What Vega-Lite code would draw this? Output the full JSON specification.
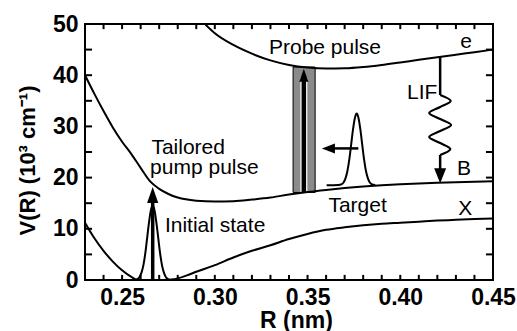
{
  "$schema": "https://vega.github.io/schema/vega-lite/v6.json",
  "width": 408,
  "height": 256,
  "autosize": {"type": "none"},
  "padding": {"left": 85, "top": 24, "right": 24, "bottom": 51},
  "background": "white",
  "config": {
    "view": {"stroke": "black", "strokeWidth": 2},
    "font": "Liberation Sans",
    "axis": {"grid": false, "domain": false, "ticks": false, "labelColor": "black", "titleColor": "black", "labelFont": "Liberation Sans", "titleFont": "Liberation Sans", "labelFontWeight": "bold", "titleFontWeight": "bold", "labelFontSize": 23, "titleFontSize": 23, "labelOverlap": false, "labelFlush": false}
  },
  "datasets": {
    "curves": [
      {"s": "X", "R": 0.23, "V": 11.2}, {"s": "X", "R": 0.235, "V": 8.2}, {"s": "X", "R": 0.24, "V": 5.7}, {"s": "X", "R": 0.245, "V": 3.6}, {"s": "X", "R": 0.25, "V": 1.9}, {"s": "X", "R": 0.255, "V": 0.6}, {"s": "X", "R": 0.258, "V": 0.05}, {"s": "X", "R": 0.262, "V": 0}, {"s": "X", "R": 0.272, "V": 0}, {"s": "X", "R": 0.278, "V": 0.15}, {"s": "X", "R": 0.285, "V": 0.9}, {"s": "X", "R": 0.29, "V": 1.6}, {"s": "X", "R": 0.3, "V": 2.9}, {"s": "X", "R": 0.31, "V": 4.4}, {"s": "X", "R": 0.32, "V": 5.7}, {"s": "X", "R": 0.33, "V": 6.8}, {"s": "X", "R": 0.34, "V": 8.0}, {"s": "X", "R": 0.35, "V": 9.0}, {"s": "X", "R": 0.36, "V": 9.8}, {"s": "X", "R": 0.37, "V": 10.3}, {"s": "X", "R": 0.38, "V": 10.7}, {"s": "X", "R": 0.39, "V": 11.0}, {"s": "X", "R": 0.4, "V": 11.2}, {"s": "X", "R": 0.41, "V": 11.4}, {"s": "X", "R": 0.42, "V": 11.6}, {"s": "X", "R": 0.43, "V": 11.75}, {"s": "X", "R": 0.44, "V": 11.9}, {"s": "X", "R": 0.45, "V": 12.0},
      {"s": "B", "R": 0.23, "V": 40.0}, {"s": "B", "R": 0.235, "V": 36.4}, {"s": "B", "R": 0.24, "V": 33.0}, {"s": "B", "R": 0.245, "V": 29.8}, {"s": "B", "R": 0.25, "V": 27.0}, {"s": "B", "R": 0.255, "V": 24.6}, {"s": "B", "R": 0.26, "V": 21.9}, {"s": "B", "R": 0.265, "V": 19.3}, {"s": "B", "R": 0.27, "V": 17.8}, {"s": "B", "R": 0.275, "V": 16.8}, {"s": "B", "R": 0.28, "V": 16.1}, {"s": "B", "R": 0.29, "V": 15.5}, {"s": "B", "R": 0.3, "V": 15.35}, {"s": "B", "R": 0.31, "V": 15.4}, {"s": "B", "R": 0.32, "V": 15.7}, {"s": "B", "R": 0.33, "V": 16.1}, {"s": "B", "R": 0.34, "V": 16.7}, {"s": "B", "R": 0.35, "V": 17.2}, {"s": "B", "R": 0.36, "V": 17.6}, {"s": "B", "R": 0.37, "V": 17.95}, {"s": "B", "R": 0.38, "V": 18.25}, {"s": "B", "R": 0.39, "V": 18.5}, {"s": "B", "R": 0.4, "V": 18.7}, {"s": "B", "R": 0.42, "V": 19.0}, {"s": "B", "R": 0.45, "V": 19.3},
      {"s": "e", "R": 0.293, "V": 50.6}, {"s": "e", "R": 0.3, "V": 48.2}, {"s": "e", "R": 0.31, "V": 45.9}, {"s": "e", "R": 0.32, "V": 44.2}, {"s": "e", "R": 0.33, "V": 42.9}, {"s": "e", "R": 0.34, "V": 42.0}, {"s": "e", "R": 0.35, "V": 41.5}, {"s": "e", "R": 0.36, "V": 41.3}, {"s": "e", "R": 0.37, "V": 41.35}, {"s": "e", "R": 0.38, "V": 41.6}, {"s": "e", "R": 0.39, "V": 42.0}, {"s": "e", "R": 0.4, "V": 42.5}, {"s": "e", "R": 0.41, "V": 43.0}, {"s": "e", "R": 0.42, "V": 43.5}, {"s": "e", "R": 0.43, "V": 44.0}, {"s": "e", "R": 0.44, "V": 44.5}, {"s": "e", "R": 0.45, "V": 45.0}
    ],
    "packets": [
      {"p": "initial", "R": 0.2575, "V": 0}, {"p": "initial", "R": 0.2585, "V": 0.25}, {"p": "initial", "R": 0.2595, "V": 0.64}, {"p": "initial", "R": 0.2605, "V": 1.5}, {"p": "initial", "R": 0.2615, "V": 2.9}, {"p": "initial", "R": 0.2625, "V": 5.2}, {"p": "initial", "R": 0.2635, "V": 8.2}, {"p": "initial", "R": 0.2645, "V": 11.2}, {"p": "initial", "R": 0.2655, "V": 13.6}, {"p": "initial", "R": 0.2665, "V": 14.5}, {"p": "initial", "R": 0.2675, "V": 13.6}, {"p": "initial", "R": 0.2685, "V": 11.2}, {"p": "initial", "R": 0.2695, "V": 8.2}, {"p": "initial", "R": 0.2705, "V": 5.2}, {"p": "initial", "R": 0.2715, "V": 2.9}, {"p": "initial", "R": 0.2725, "V": 1.5}, {"p": "initial", "R": 0.2735, "V": 0.64}, {"p": "initial", "R": 0.2745, "V": 0.25}, {"p": "initial", "R": 0.2755, "V": 0},
      {"p": "target", "R": 0.3603, "V": 18.5}, {"p": "target", "R": 0.3665, "V": 18.55}, {"p": "target", "R": 0.3685, "V": 18.74}, {"p": "target", "R": 0.3695, "V": 19.1}, {"p": "target", "R": 0.3705, "V": 19.9}, {"p": "target", "R": 0.3715, "V": 21.3}, {"p": "target", "R": 0.3725, "V": 23.5}, {"p": "target", "R": 0.3735, "V": 26.4}, {"p": "target", "R": 0.3745, "V": 29.35}, {"p": "target", "R": 0.3755, "V": 31.6}, {"p": "target", "R": 0.3765, "V": 32.5}, {"p": "target", "R": 0.3775, "V": 31.6}, {"p": "target", "R": 0.3785, "V": 29.35}, {"p": "target", "R": 0.3795, "V": 26.4}, {"p": "target", "R": 0.3805, "V": 23.5}, {"p": "target", "R": 0.3815, "V": 21.3}, {"p": "target", "R": 0.3825, "V": 19.9}, {"p": "target", "R": 0.3835, "V": 19.1}, {"p": "target", "R": 0.3845, "V": 18.74}, {"p": "target", "R": 0.3865, "V": 18.55}
    ],
    "wiggle": [
      {"i": 0, "R": 0.4215, "V": 36.13}, {"i": 1, "R": 0.4272, "V": 34.96}, {"i": 2, "R": 0.4215, "V": 33.79}, {"i": 3, "R": 0.4156, "V": 32.62}, {"i": 4, "R": 0.4215, "V": 31.45}, {"i": 5, "R": 0.4274, "V": 30.27}, {"i": 6, "R": 0.4215, "V": 29.1}, {"i": 7, "R": 0.4156, "V": 27.93}, {"i": 8, "R": 0.4215, "V": 26.76}, {"i": 9, "R": 0.427, "V": 25.59}, {"i": 10, "R": 0.4215, "V": 24.41}
    ],
    "shafts": [
      {"a": "LIF top", "R": 0.4215, "V": 43.6, "R2": 0.4215, "V2": 36.13},
      {"a": "LIF bottom", "R": 0.4215, "V": 24.41, "R2": 0.4215, "V2": 21.0},
      {"a": "target", "R": 0.3774, "V": 25.7, "R2": 0.363, "V2": 25.7}
    ],
    "xticks": [{"R": 0.24}, {"R": 0.25}, {"R": 0.26}, {"R": 0.27}, {"R": 0.28}, {"R": 0.29}, {"R": 0.3}, {"R": 0.31}, {"R": 0.32}, {"R": 0.33}, {"R": 0.34}, {"R": 0.35}, {"R": 0.36}, {"R": 0.37}, {"R": 0.38}, {"R": 0.39}, {"R": 0.4}, {"R": 0.41}, {"R": 0.42}, {"R": 0.43}, {"R": 0.44}],
    "yticks": [{"V": 5}, {"V": 10}, {"V": 15}, {"V": 20}, {"V": 25}, {"V": 30}, {"V": 35}, {"V": 40}, {"V": 45}],
    "labels_c": [
      {"t": "Probe pulse", "R": 0.3594, "V": 44.14},
      {"t": "e", "R": 0.4355, "V": 45.25},
      {"t": "LIF", "R": 0.4118, "V": 35.3},
      {"t": "B", "R": 0.4344, "V": 20.5},
      {"t": "X", "R": 0.435, "V": 12.7},
      {"t": "Target", "R": 0.377, "V": 13.35}
    ],
    "labels_l": [
      {"t": "Tailored", "R": 0.2658, "V": 24.6},
      {"t": "pump pulse", "R": 0.2651, "V": 20.7},
      {"t": "Initial state", "R": 0.2731, "V": 9.43}
    ]
  },
  "layer": [
    {
      "data": {"values": [{"R": 0.3422, "R2": 0.3541, "V": 17.1, "V2": 41.6}]},
      "mark": {"type": "rect", "fill": "#8a8a8a", "stroke": "black", "strokeWidth": 1, "clip": true},
      "encoding": {
        "x": {"field": "R", "type": "quantitative", "scale": {"domain": [0.23, 0.45], "nice": false, "zero": false},
          "axis": {"orient": "bottom", "values": [0.25, 0.3, 0.35, 0.4, 0.45], "format": ".2f", "ticks": false, "tickSize": 0, "labelPadding": 6, "title": "R (nm)", "titleX": 211, "titleY": 47, "titleBaseline": "alphabetic"}},
        "x2": {"field": "R2"},
        "y": {"field": "V", "type": "quantitative", "scale": {"domain": [0, 50], "nice": false, "zero": false},
          "axis": {"orient": "left", "values": [0, 10, 20, 30, 40, 50], "ticks": false, "tickSize": 0, "labelPadding": 7, "title": "V(R) (10³ cm⁻¹)", "titleFontSize": 22, "titleX": -58, "titleY": 136, "titleBaseline": "middle", "titleAngle": 270}},
        "y2": {"field": "V2"}
      }
    },
    {
      "data": {"name": "xticks"},
      "mark": {"type": "rule", "stroke": "black", "strokeWidth": 2},
      "encoding": {"x": {"field": "R", "type": "quantitative"}, "y": {"datum": 0}, "y2": {"datum": 1.0}}
    },
    {
      "data": {"name": "xticks"},
      "mark": {"type": "rule", "stroke": "black", "strokeWidth": 2},
      "encoding": {"x": {"field": "R", "type": "quantitative"}, "y": {"datum": 49.0}, "y2": {"datum": 50}}
    },
    {
      "data": {"name": "yticks"},
      "mark": {"type": "rule", "stroke": "black", "strokeWidth": 2},
      "encoding": {"y": {"field": "V", "type": "quantitative"}, "x": {"datum": 0.23}, "x2": {"datum": 0.2338}}
    },
    {
      "data": {"name": "yticks"},
      "mark": {"type": "rule", "stroke": "black", "strokeWidth": 2},
      "encoding": {"y": {"field": "V", "type": "quantitative"}, "x": {"datum": 0.4462}, "x2": {"datum": 0.45}}
    },
    {
      "data": {"values": [{"R": 0.348, "V": 17.2, "V2": 39.5}]},
      "mark": {"type": "rule", "stroke": "white", "strokeWidth": 7},
      "encoding": {"x": {"field": "R", "type": "quantitative"}, "y": {"field": "V", "type": "quantitative"}, "y2": {"field": "V2"}}
    },
    {
      "data": {"values": [{"R": 0.348, "V": 17.2, "V2": 39.5}]},
      "mark": {"type": "rule", "stroke": "black", "strokeWidth": 4.5},
      "encoding": {"x": {"field": "R", "type": "quantitative"}, "y": {"field": "V", "type": "quantitative"}, "y2": {"field": "V2"}}
    },
    {
      "data": {"name": "curves"},
      "mark": {"type": "line", "stroke": "black", "strokeWidth": 2, "interpolate": "monotone", "clip": true},
      "encoding": {"x": {"field": "R", "type": "quantitative"}, "y": {"field": "V", "type": "quantitative"}, "detail": {"field": "s"}}
    },
    {
      "data": {"name": "packets"},
      "mark": {"type": "line", "stroke": "black", "strokeWidth": 2, "interpolate": "monotone"},
      "encoding": {"x": {"field": "R", "type": "quantitative"}, "y": {"field": "V", "type": "quantitative"}, "detail": {"field": "p"}}
    },
    {
      "data": {"values": [{"R": 0.2665, "V": 0, "V2": 15.5}]},
      "mark": {"type": "rule", "stroke": "black", "strokeWidth": 3.5},
      "encoding": {"x": {"field": "R", "type": "quantitative"}, "y": {"field": "V", "type": "quantitative"}, "y2": {"field": "V2"}}
    },
    {
      "data": {"name": "shafts"},
      "mark": {"type": "rule", "stroke": "black", "strokeWidth": 2.5},
      "encoding": {"x": {"field": "R", "type": "quantitative"}, "y": {"field": "V", "type": "quantitative"}, "x2": {"field": "R2"}, "y2": {"field": "V2"}}
    },
    {
      "data": {"name": "wiggle"},
      "mark": {"type": "line", "stroke": "black", "strokeWidth": 2.2, "interpolate": "cardinal"},
      "encoding": {"x": {"field": "R", "type": "quantitative"}, "y": {"field": "V", "type": "quantitative"}, "order": {"field": "i", "type": "quantitative"}}
    },
    {
      "data": {"values": [{"R": 0.2665, "V": 16.6}]},
      "mark": {"type": "point", "shape": "M0,-1L-0.7,1L0.7,1Z", "size": 256, "filled": true, "fill": "black", "stroke": null, "opacity": 1},
      "encoding": {"x": {"field": "R", "type": "quantitative"}, "y": {"field": "V", "type": "quantitative"}}
    },
    {
      "data": {"values": [{"R": 0.348, "V": 40.0}]},
      "mark": {"type": "point", "shape": "M0,-1L-0.7,1L0.7,1Z", "size": 169, "filled": true, "fill": "black", "stroke": null, "opacity": 1},
      "encoding": {"x": {"field": "R", "type": "quantitative"}, "y": {"field": "V", "type": "quantitative"}}
    },
    {
      "data": {"values": [{"R": 0.4215, "V": 20.35}]},
      "mark": {"type": "point", "shape": "M0,1L-0.8,-1L0.8,-1Z", "size": 225, "filled": true, "fill": "black", "stroke": null, "opacity": 1},
      "encoding": {"x": {"field": "R", "type": "quantitative"}, "y": {"field": "V", "type": "quantitative"}}
    },
    {
      "data": {"values": [{"R": 0.36125, "V": 25.7}]},
      "mark": {"type": "point", "shape": "M-1,0L1,-0.77L1,0.77Z", "size": 169, "filled": true, "fill": "black", "stroke": null, "opacity": 1},
      "encoding": {"x": {"field": "R", "type": "quantitative"}, "y": {"field": "V", "type": "quantitative"}}
    },
    {
      "data": {"name": "labels_c"},
      "mark": {"type": "text", "align": "center", "baseline": "alphabetic", "fontSize": 21, "font": "Liberation Sans", "fill": "black"},
      "encoding": {"x": {"field": "R", "type": "quantitative"}, "y": {"field": "V", "type": "quantitative"}, "text": {"field": "t"}}
    },
    {
      "data": {"name": "labels_l"},
      "mark": {"type": "text", "align": "left", "baseline": "alphabetic", "fontSize": 21, "font": "Liberation Sans", "fill": "black"},
      "encoding": {"x": {"field": "R", "type": "quantitative"}, "y": {"field": "V", "type": "quantitative"}, "text": {"field": "t"}}
    }
  ]
}
